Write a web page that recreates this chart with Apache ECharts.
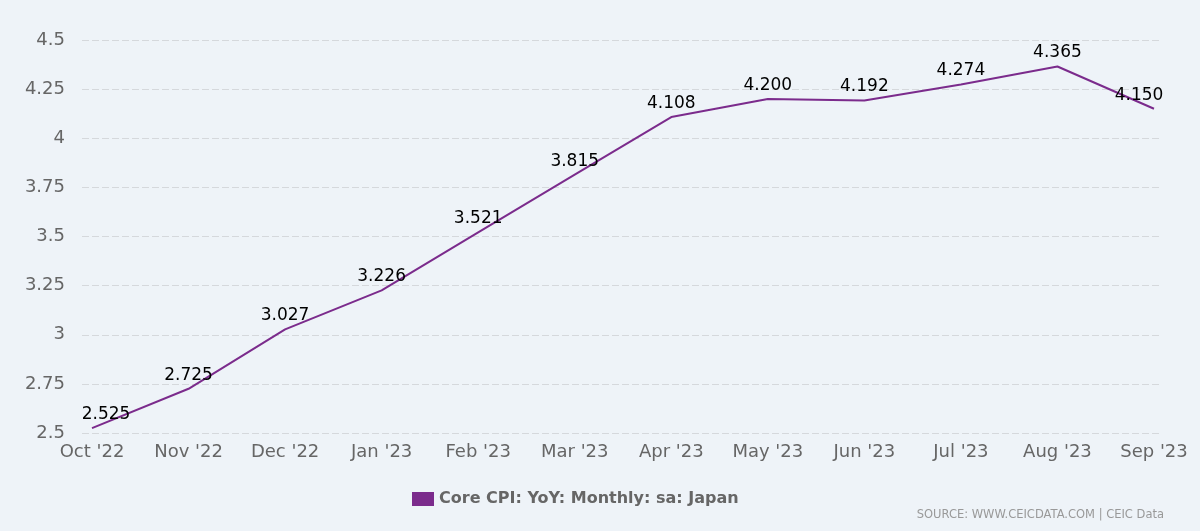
<!DOCTYPE html>
<html>
<head>
    <meta charset="utf-8">
    <script src="https://cdn.jsdelivr.net/npm/echarts@6/dist/echarts.min.js"></script>
    <style>
        html, body { margin: 0; padding: 0; background: #eef3f8; }
    </style>
</head>
<body>
    <div id="main" style="width: 1200px;height:531px;"></div>
    <script type="text/javascript">
        var myChart = echarts.init(document.getElementById('main'));

        // data
        var months = ["Oct '22", "Nov '22", "Dec '22", "Jan '23", "Feb '23", "Mar '23",
                      "Apr '23", "May '23", "Jun '23", "Jul '23", "Aug '23", "Sep '23"];
        var coreCpi = [2.525, 2.725, 3.027, 3.226, 3.521, 3.815, 4.108, 4.200, 4.192, 4.274, 4.365, 4.150];
        var seriesName = 'Core CPI: YoY: Monthly: sa: Japan';
        var sourceText = 'SOURCE: WWW.CEICDATA.COM | CEIC Data';

        var font = 'DejaVu Sans';
        var purple = '#7b2b8c';

        var option = {
            backgroundColor: '#eef3f8',
            animation: false,
            grid: [
                { left: 92, right: 46, top: 40, bottom: 98 },
                { left: 82, right: 38, top: 40, bottom: 98 }
            ],
            xAxis: [
                {
                    type: 'category',
                    gridIndex: 0,
                    data: months,
                    boundaryGap: false,
                    axisLine: { show: false },
                    axisTick: { show: false },
                    axisLabel: { color: '#666666', fontSize: 18, fontFamily: font, margin: 10, interval: 0 }
                },
                { type: 'value', gridIndex: 1, show: false, min: 0, max: 1 }
            ],
            yAxis: [
                { type: 'value', gridIndex: 0, min: 2.5, max: 4.5, interval: 0.25, show: false },
                {
                    type: 'value',
                    gridIndex: 1,
                    min: 2.5,
                    max: 4.5,
                    interval: 0.25,
                    axisLine: { show: false },
                    axisTick: { show: false },
                    axisLabel: { color: '#666666', fontSize: 18, fontFamily: font, margin: 17 },
                    splitLine: { lineStyle: { color: '#d5d8dc', type: [7, 3], width: 1 } }
                }
            ],
            legend: {
                left: 407,
                top: 486,
                icon: 'rect',
                itemWidth: 22,
                itemHeight: 14,
                itemGap: 10,
                textStyle: { color: '#666666', fontSize: 16, fontWeight: 'bold', fontFamily: font },
                data: [seriesName]
            },
            graphic: [{
                type: 'text',
                right: 36,
                top: 509,
                style: { text: sourceText, fill: '#999999', font: '11.5px "DejaVu Sans"' }
            }],
            series: [{
                name: seriesName,
                type: 'line',
                xAxisIndex: 0,
                yAxisIndex: 0,
                data: coreCpi,
                symbol: 'circle',
                symbolSize: 0,
                showSymbol: true,
                color: purple,
                lineStyle: { color: purple, width: 2 },
                // keep first / last labels inside the plot like the original
                labelLayout: function (params) {
                    if (params.dataIndex === 0) return { dx: 14, hideOverlap: false };
                    if (params.dataIndex === coreCpi.length - 1) return { dx: -15, hideOverlap: false };
                    return { hideOverlap: false };
                },
                label: {
                    show: true,
                    position: 'top',
                    distance: 5,
                    color: '#000000',
                    fontSize: 17,
                    fontFamily: font,
                    formatter: function (p) { return p.value.toFixed(3); }
                }
            }]
        };

        myChart.setOption(option);
    </script>
</body>
</html>
